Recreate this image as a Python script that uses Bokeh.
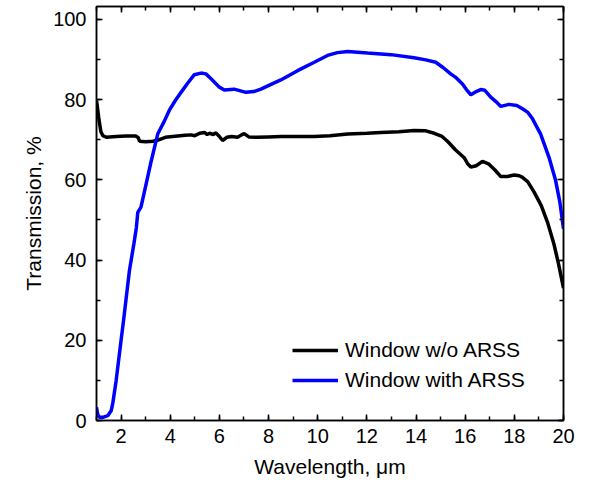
from bokeh.plotting import figure
from bokeh.models import Range1d, LinearAxis, SingleIntervalTicker, Legend, LegendItem
from bokeh.embed import file_html
from bokeh.resources import INLINE

# Data
wl_plain = [1.0, 1.05, 1.1, 1.18, 1.26, 1.4, 1.8, 2.2, 2.6, 2.7, 2.75, 3.0, 3.3, 3.5, 3.8, 4.1, 4.4, 4.6,
            4.85, 5.0, 5.2, 5.39, 5.5, 5.6, 5.75, 5.86, 6.0, 6.13, 6.3, 6.5, 6.74, 6.9, 7.01, 7.2, 7.5,
            8.0, 8.5, 9.0, 9.86, 10.5, 11.22, 12.0, 12.57, 13.3, 13.92, 14.4, 14.74, 15.06, 15.3, 15.6,
            15.96, 16.1, 16.23, 16.45, 16.7, 16.95, 17.2, 17.45, 17.7, 17.99, 18.2, 18.33, 18.55, 18.8,
            19.1, 19.35, 19.61, 19.8, 20.0]
t_plain = [79.8, 77.5, 75.0, 72.0, 71.0, 70.6, 70.8, 70.9, 70.9, 70.5, 69.6, 69.5, 69.6, 69.9, 70.6,
           70.8, 71.0, 71.1, 71.2, 71.0, 71.6, 71.8, 71.3, 71.6, 71.3, 71.7, 70.8, 69.8, 70.6, 70.8,
           70.6, 71.2, 71.5, 70.7, 70.6, 70.7, 70.8, 70.8, 70.8, 71.0, 71.4, 71.6, 71.8, 72.0, 72.3,
           72.2, 71.6, 70.8, 69.5, 67.5, 65.5, 64.0, 63.2, 63.5, 64.6, 64.0, 62.5, 60.8, 60.8, 61.2,
           61.0, 60.6, 59.5, 57.0, 53.5, 49.4, 44.0, 39.0, 33.0]

wl_arss = [1.0, 1.05, 1.12, 1.26, 1.46, 1.6, 1.66, 1.8, 2.0, 2.1, 2.34, 2.52, 2.62, 2.68, 2.81, 3.02,
           3.2, 3.49, 3.75, 3.96, 4.2, 4.44, 4.7, 4.98, 5.25, 5.45, 5.66, 5.85, 6.0, 6.2, 6.6, 7.08,
           7.4, 7.69, 8.1, 8.5, 9.18, 9.86, 10.4, 10.8, 11.22, 12.03, 12.98, 13.92, 14.4, 14.8, 15.1,
           15.41, 15.6, 15.89, 16.05, 16.23, 16.45, 16.63, 16.8, 17.04, 17.25, 17.45, 17.78, 18.1,
           18.33, 18.55, 18.74, 19.07, 19.41, 19.68, 19.85, 20.0]
t_arss = [3.3, 1.5, 0.8, 0.8, 1.2, 2.5, 4.2, 10.0, 20.0, 24.9, 37.4, 44.0, 48.0, 51.9, 53.2, 59.0,
          64.0, 71.4, 74.5, 77.3, 79.7, 81.8, 84.0, 86.2, 86.6, 86.4, 85.2, 84.0, 83.1, 82.4, 82.6,
          81.8, 82.0, 82.6, 83.8, 84.9, 87.2, 89.3, 91.0, 91.7, 92.0, 91.6, 91.2, 90.4, 89.9, 89.3,
          88.0, 86.4, 85.6, 83.9, 82.5, 81.2, 82.0, 82.5, 82.3, 80.6, 79.5, 78.3, 78.8, 78.5, 77.7,
          76.8, 75.2, 71.4, 65.6, 59.8, 54.5, 47.8]

labels = ["Window w/o ARSS", "Window with ARSS"]
FONT = "Liberation Sans"

p = figure(width=590, height=483, output_backend="svg", toolbar_location=None,
           x_range=Range1d(1, 20), y_range=Range1d(0, 103.2),
           min_border_left=96, min_border_right=27, min_border_top=6, min_border_bottom=63)
p.background_fill_color = "white"
p.border_fill_color = "white"
p.outline_line_color = "black"
p.outline_line_width = 1.5
p.grid.visible = False

p.xaxis.ticker = SingleIntervalTicker(interval=2, num_minor_ticks=2)
p.yaxis.ticker = SingleIntervalTicker(interval=20, num_minor_ticks=2)
for ax in (p.xaxis[0], p.yaxis[0]):
    ax.axis_line_width = 1.5
    ax.major_tick_in = 6
    ax.major_tick_out = 0
    ax.minor_tick_in = 4
    ax.minor_tick_out = 0
    ax.major_tick_line_width = 1.5
    ax.minor_tick_line_width = 1.5
    ax.major_label_text_font = FONT
    ax.major_label_text_font_size = "20px"
    ax.major_label_text_color = "black"
    ax.axis_label_text_font = FONT
    ax.axis_label_text_font_size = "21px"
    ax.axis_label_text_font_style = "normal"
    ax.axis_label_text_color = "black"
p.xaxis.axis_label = "Wavelength, μm"
p.yaxis.axis_label = "Transmission, %"
p.xaxis.major_label_standoff = 8
p.yaxis.major_label_standoff = 10
p.xaxis.axis_label_standoff = 9
p.yaxis.axis_label_standoff = 5

top = LinearAxis(ticker=SingleIntervalTicker(interval=2, num_minor_ticks=2))
right = LinearAxis(ticker=SingleIntervalTicker(interval=20, num_minor_ticks=2))
for ax in (top, right):
    ax.axis_line_width = 1.5
    ax.major_tick_in = 6
    ax.major_tick_out = 0
    ax.minor_tick_in = 4
    ax.minor_tick_out = 0
    ax.major_tick_line_width = 1.5
    ax.minor_tick_line_width = 1.5
    ax.major_label_text_font_size = "0px"
    ax.major_label_text_color = None
    ax.major_label_standoff = 0
p.add_layout(top, "above")
p.add_layout(right, "right")

r1 = p.line(wl_plain, t_plain, line_color="black", line_width=3.5)
r2 = p.line(wl_arss, t_arss, line_color="#0000FF", line_width=3.5)

legend = Legend(items=[LegendItem(label=labels[0], renderers=[r1]),
                       LegendItem(label=labels[1], renderers=[r2])],
                location=(196, 28), border_line_color=None, background_fill_alpha=0,
                padding=0, margin=0, spacing=6, glyph_width=46, glyph_height=20,
                label_height=20, label_standoff=7,
                label_text_font=FONT, label_text_font_size="21px", label_text_color="black")
p.add_layout(legend)

open("out.html", "w").write(file_html(p, INLINE))
